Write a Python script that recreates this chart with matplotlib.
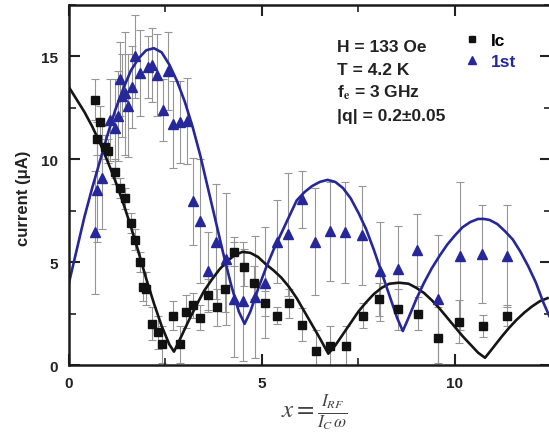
import matplotlib
matplotlib.use("Agg")
import matplotlib.pyplot as plt
from matplotlib.lines import Line2D
from matplotlib.ticker import MultipleLocator

# --- measured critical current Ic (black squares) ---
ic_x = [0.67, 0.72, 0.80, 0.93, 1.01, 1.19, 1.32, 1.45, 1.60, 1.72, 1.83, 1.92,
        2.00, 2.16, 2.31, 2.41, 2.69, 2.88, 3.04, 3.22, 3.40, 3.60, 3.83, 4.05,
        4.27, 4.53, 4.80, 5.09, 5.38, 5.70, 6.04, 6.40, 6.76, 7.18, 7.62, 8.03,
        8.52, 9.04, 9.56, 10.10, 10.73, 11.35]
ic_y = [12.9, 11.0, 11.8, 10.6, 10.4, 9.4, 8.6, 8.1, 6.9, 6.1, 5.0, 3.8,
        3.7, 2.0, 1.6, 1.0, 2.4, 1.0, 2.6, 2.9, 2.3, 3.4, 2.8, 3.7,
        5.5, 4.75, 4.0, 3.0, 2.4, 3.0, 1.95, 0.7, 0.9, 0.9, 2.4, 3.2,
        2.7, 2.5, 1.3, 2.1, 1.9, 2.4]
ic_err = [1.0, 0.8, 0.8, 0.6, 0.6, 0.6, 0.5, 0.5, 0.5, 0.5, 0.5, 0.7,
          0.8, 0.8, 0.8, 0.9, 0.7, 0.9, 0.8, 0.6, 0.6, 0.8, 0.9, 1.1,
          0.7, 0.9, 0.8, 0.6, 0.4, 0.7, 0.8, 1.0, 1.0, 1.0, 0.6, 0.8,
          1.0, 0.8, 1.5, 1.05, 0.55, 0.5]

# --- measured 1st step (blue triangles) ---
st_x = [0.67, 0.72, 0.85, 1.06, 1.19, 1.27, 1.32, 1.37, 1.45, 1.53, 1.63, 1.71,
        1.84, 2.05, 2.15, 2.28, 2.44, 2.56, 2.69, 2.88, 3.06, 3.21, 3.39, 3.60,
        3.81, 4.07, 4.27, 4.51, 4.82, 5.08, 5.39, 5.67, 6.04, 6.37, 6.76, 7.15,
        7.60, 8.05, 8.52, 9.03, 9.56, 10.13, 10.70, 11.35]
st_y = [6.45, 8.5, 9.1, 11.9, 11.5, 12.1, 13.9, 13.1, 13.2, 12.6, 13.5, 15.0,
        14.2, 14.5, 14.6, 14.1, 12.4, 14.3, 11.7, 11.8, 11.85, 7.95, 7.0, 4.55,
        6.0, 5.15, 3.2, 3.1, 3.3, 4.0, 6.0, 6.35, 8.05, 6.0, 6.5, 6.45,
        6.3, 4.55, 4.65, 5.6, 3.2, 5.3, 5.4, 5.3]
st_err = [3.0, 2.5, 2.5, 2.0, 2.4, 2.2, 1.8, 2.0, 3.0, 2.5, 2.0, 2.0,
          2.1, 1.5, 1.8, 2.0, 1.5, 1.9, 2.1, 2.0, 2.1, 2.1, 3.0, 1.9,
          2.8, 3.2, 2.8, 2.9, 2.95, 2.7, 2.0, 3.0, 1.4, 2.6, 2.4, 2.45,
          2.4, 2.4, 2.1, 1.75, 3.1, 3.6, 2.4, 2.5]

# --- theory curves ---
ic_fit_x = [0.0, 0.2, 0.4, 0.6, 0.8, 1.0, 1.2, 1.4, 1.6, 1.8, 2.0, 2.2, 2.4, 2.6,
            2.72, 2.9, 3.1, 3.3, 3.5, 3.7, 3.9, 4.1, 4.3, 4.5, 4.7, 4.9, 5.1,
            5.3, 5.5, 5.7, 5.9, 6.1, 6.3, 6.5, 6.72, 6.9, 7.1, 7.3, 7.5, 7.7,
            7.9, 8.1, 8.3, 8.55, 8.8, 9.0, 9.2, 9.4, 9.6, 9.8, 10.0, 10.2,
            10.4, 10.6, 10.78, 10.95, 11.2, 11.4, 11.6, 11.8, 12.0, 12.2, 12.4]
ic_fit_y = [13.5, 12.9, 12.3, 11.6, 10.8, 9.9, 8.95, 7.9, 6.75, 5.5, 4.2, 3.0,
            1.9, 1.0, 0.65, 1.35, 2.15, 2.9, 3.6, 4.15, 4.65, 5.05, 5.35, 5.5,
            5.45, 5.25, 4.9, 4.6, 4.25, 3.8, 3.25, 2.6, 1.95, 1.3, 0.55, 0.95,
            1.5, 2.05, 2.6, 3.05, 3.45, 3.75, 3.95, 4.0, 3.95, 3.75, 3.5, 3.15,
            2.75, 2.3, 1.85, 1.4, 1.0, 0.6, 0.35, 0.75, 1.35, 1.8, 2.2, 2.55,
            2.85, 3.1, 3.25]

st_fit_x = [0.0, 0.2, 0.4, 0.6, 0.8, 1.0, 1.2, 1.4, 1.6, 1.8, 2.0, 2.2, 2.4, 2.6,
            2.8, 3.0, 3.2, 3.4, 3.6, 3.8, 4.0, 4.2, 4.4, 4.55, 4.7, 4.9, 5.1,
            5.3, 5.5, 5.7, 5.9, 6.1, 6.3, 6.5, 6.7, 6.9, 7.1, 7.3, 7.5, 7.7,
            7.9, 8.1, 8.3, 8.5, 8.65, 8.8, 9.0, 9.2, 9.4, 9.6, 9.8, 10.0, 10.2,
            10.4, 10.6, 10.75, 10.9, 11.1, 11.3, 11.5, 11.7, 11.9, 12.1, 12.3, 12.49]
st_fit_y = [4.0, 5.6, 7.2, 8.6, 9.9, 11.2, 12.4, 13.4, 14.3, 14.9, 15.3, 15.4,
            15.2, 14.6, 13.8, 12.8, 11.6, 10.2, 8.6, 7.0, 5.4, 3.9, 2.6, 2.0,
            2.6, 3.7, 4.7, 5.6, 6.4, 7.2, 8.0, 8.4, 8.7, 8.9, 9.0, 8.9, 8.6,
            8.1, 7.4, 6.6, 5.6, 4.5, 3.4, 2.3, 1.65, 2.3, 3.2, 4.0, 4.7, 5.3,
            5.85, 6.3, 6.7, 6.95, 7.1, 7.1, 7.05, 6.85, 6.5, 6.1, 5.5, 4.8,
            4.0, 3.0, 2.2]

notes = ["H = 133 Oe", "T = 4.2 K", "f$_{\\mathbf{e}}$ = 3 GHz", "|q| = 0.2\u00b10.05"]

BLUE = "#26289a"
BAR = "#959595"

plt.rcParams["font.family"] = ["Liberation Sans", "DejaVu Sans"]
plt.rcParams["mathtext.fontset"] = "stix"

fig = plt.figure(figsize=(5.49, 4.39), dpi=100)
W, H = 549.0, 439.0
ax = fig.add_axes([69 / W, 1 - 366 / H, (551 - 69) / W, (366 - 6) / H])

ax.errorbar(st_x, st_y, yerr=st_err, fmt="none", ecolor=BAR, elinewidth=0.8,
            capsize=3, capthick=0.8, zorder=1)
ax.errorbar(ic_x, ic_y, yerr=ic_err, fmt="none", ecolor=BAR, elinewidth=0.8,
            capsize=3, capthick=0.8, zorder=1)

ax.plot(ic_fit_x, ic_fit_y, color="#151515", lw=1.9, zorder=2)
ax.plot(st_fit_x, st_fit_y, color=BLUE, lw=1.9, zorder=2)

ax.plot(ic_x, ic_y, ls="none", marker="s", ms=5.8, color="#111111", zorder=3)
ax.plot(st_x, st_y, ls="none", marker="^", ms=6.5, color=BLUE, zorder=3)

ax.set_xlim(0, 12.49)
ax.set_ylim(0, 17.5)
ax.xaxis.set_major_locator(MultipleLocator(5))
ax.xaxis.set_minor_locator(MultipleLocator(2.5))
ax.yaxis.set_major_locator(MultipleLocator(5))
ax.yaxis.set_minor_locator(MultipleLocator(2.5))
ax.tick_params(which="both", direction="in", top=True, right=True, colors="#222222")
ax.tick_params(which="major", length=8, width=1.5, labelsize=11, pad=8)
ax.tick_params(which="minor", length=5, width=1.2)
for lab in ax.get_xticklabels() + ax.get_yticklabels():
    lab.set_fontweight("bold")
for sp in ax.spines.values():
    sp.set_linewidth(1.8)
    sp.set_color("#1a1a1a")

ax.set_ylabel("current (\u03bcA)", fontsize=12, fontweight="bold", color="#222222")
ax.yaxis.set_label_coords(-0.079, 0.466)
ax.set_xlabel(r"$x = \frac{I_{RF}}{I_C\,\omega}$", fontsize=18, color="#444444",
              va="center")
ax.xaxis.set_label_coords(0.51, -0.13)

for i, s in enumerate(notes):
    ax.text(6.94, 15.5 - i * 1.12, s, fontsize=12.5, fontweight="bold",
            va="center", ha="left", color="#222222")

handles = [Line2D([], [], ls="none", marker="s", ms=5, color="#111111"),
           Line2D([], [], ls="none", marker="^", ms=6, color=BLUE)]
leg = ax.legend(handles, ["Ic", "1st"], loc="upper left",
                bbox_to_anchor=(0.786, 0.965), frameon=False, handlelength=1.0,
                handletextpad=0.55, labelspacing=0.3,
                prop={"weight": "bold", "size": 12.5})
leg.get_texts()[1].set_color(BLUE)

fig.savefig("out.png", dpi=100)
